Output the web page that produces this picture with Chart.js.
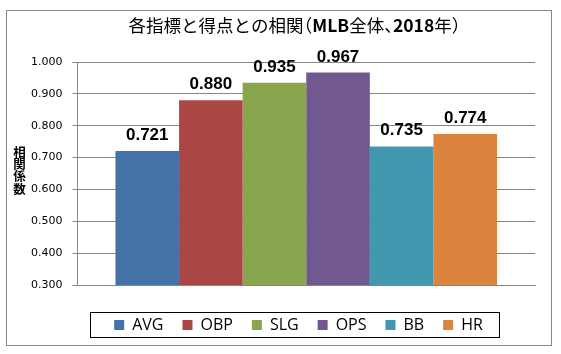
<!DOCTYPE html>
<html>
<head>
<meta charset="utf-8">
<script src="https://cdn.jsdelivr.net/npm/chart.js@4/dist/chart.umd.min.js"></script>
<style>
  html, body { margin: 0; padding: 0; background: #ffffff; }
  canvas { display: block; }
</style>
</head>
<body>
<canvas id="c" width="561" height="354"></canvas>
<script>
// ---- data ----
const chartTitle = '各指標と得点との相関（MLB全体、2018年）';
const yAxisTitle = '相関係数';
const categories = [''];
const seriesNames = ['AVG', 'OBP', 'SLG', 'OPS', 'BB', 'HR'];
const seriesValues = [0.721, 0.880, 0.935, 0.967, 0.735, 0.774];
const yMin = 0.3;
const yMax = 1.0;
const yStep = 0.1;

// ---- styles ----
const palette = ['#4572A7', '#AA4643', '#89A54E', '#71588F', '#4198AF', '#DB843D'];
const gridColor = '#878787';

const datasets = seriesNames.map((name, i) => ({
  label: name,
  data: [seriesValues[i]],
  backgroundColor: palette[i],
  borderWidth: 0,
  categoryPercentage: 0.834,
  barPercentage: 1.0
}));

// draw the title with half-width CJK punctuation and bold latin runs
function drawTitle(ctx, text, cx, cy, size) {
  const fam = '"Noto Sans CJK JP", sans-serif';
  const runs = [];
  Array.from(text).forEach(ch => {
    const latin = /[A-Za-z0-9]/.test(ch);
    const kind = latin ? 'latin' : (ch === '（' ? 'openP' : ((ch === '）' || ch === '、') ? 'closeP' : 'cjk'));
    const last = runs[runs.length - 1];
    if (last && last.kind === kind && (kind === 'latin' || kind === 'cjk')) last.t += ch;
    else runs.push({ t: ch, kind });
  });
  const fontFor = r => (r.kind === 'latin' ? 'bold ' : '') + size + 'px ' + fam;
  runs.forEach(r => {
    ctx.font = fontFor(r);
    r.w = (r.kind === 'openP' || r.kind === 'closeP') ? size * 0.5 : ctx.measureText(r.t).width;
  });
  const total = runs.reduce((s, r) => s + r.w, 0);
  let x = cx - total / 2;
  ctx.textAlign = 'left';
  ctx.textBaseline = 'middle';
  runs.forEach(r => {
    ctx.font = fontFor(r);
    const dx = r.kind === 'openP' ? -size * 0.5 : 0;
    ctx.fillText(r.t, x + dx, cy);
    x += r.w;
  });
}

const decorPlugin = {
  id: 'decor',
  afterLayout(chart) {
    const lg = chart.legend;
    lg.left = 62;
    lg.right = chart.chartArea.right;
    lg.width = lg.right - lg.left;
  },
  afterDraw(chart) {
    const ctx = chart.ctx;
    ctx.save();
    // outer frame
    ctx.strokeStyle = '#888888';
    ctx.lineWidth = 1;
    ctx.strokeRect(6.5, 10.5, 545, 335);

    // chart title
    ctx.fillStyle = '#000000';
    drawTitle(ctx, chartTitle, 294.5, 25.5, 17.5);

    // legend frame
    const hb = chart.legend.legendHitBoxes;
    if (hb && hb.length) {
      const left = Math.min(...hb.map(h => h.left));
      const right = Math.max(...hb.map(h => h.left + h.width));
      const top = Math.min(...hb.map(h => h.top));
      const bottom = Math.max(...hb.map(h => h.top + h.height));
      ctx.strokeStyle = '#000000';
      ctx.strokeRect(Math.round(left - 24) + 0.5, Math.round(top - 5) + 0.5,
                     Math.round(right - left + 40), Math.round(bottom - top + 9));
    }

    // data labels
    ctx.font = 'bold 17px "Liberation Sans", Arial, sans-serif';
    ctx.textAlign = 'center';
    ctx.textBaseline = 'alphabetic';
    chart.data.datasets.forEach((ds, i) => {
      const meta = chart.getDatasetMeta(i);
      meta.data.forEach((el, j) => {
        ctx.fillText(ds.data[j].toFixed(3), el.x, el.y - 11);
      });
    });

    // y-axis title, stacked vertically
    ctx.font = 'bold 12.5px "Noto Sans CJK JP", sans-serif';
    ctx.textAlign = 'center';
    ctx.textBaseline = 'middle';
    const chars = Array.from(yAxisTitle);
    const pitch = 12.3;
    const cy = (chart.chartArea.top + chart.chartArea.bottom) / 2 - 3;
    chars.forEach((ch, k) => {
      ctx.fillText(ch, 19.5, cy + (k - (chars.length - 1) / 2) * pitch);
    });
    ctx.restore();
  }
};

new Chart(document.getElementById('c'), {
  type: 'bar',
  data: { labels: categories, datasets: datasets },
  options: {
    responsive: false,
    animation: false,
    devicePixelRatio: 1,
    layout: { padding: { left: 21, right: 26, top: 62, bottom: 11 } },
    plugins: {
      title: { display: false },
      legend: {
        display: true,
        position: 'bottom',
        labels: {
          color: '#000000',
          boxWidth: 10,
          boxHeight: 10,
          padding: 19,
          font: { family: '"Open Sans", sans-serif', size: 16 }
        }
      },
      tooltip: { enabled: false }
    },
    scales: {
      x: {
        display: true,
        grid: { display: false, drawTicks: false },
        border: { display: true, color: gridColor, width: 1 },
        ticks: { display: false },
        title: { display: true, text: ' ', font: { size: 1, lineHeight: 1 }, padding: { top: 6, bottom: 6 } }
      },
      y: {
        min: yMin,
        max: yMax,
        grid: { color: gridColor, tickLength: 5, drawTicks: true, tickColor: gridColor },
        border: { display: true, color: gridColor, width: 1 },
        ticks: {
          stepSize: yStep,
          color: '#000000',
          padding: 10,
          font: { family: '"DejaVu Sans", Verdana, sans-serif', size: 11 },
          callback: (v) => Number(v).toFixed(3)
        }
      }
    }
  },
  plugins: [decorPlugin]
});
</script>
</body>
</html>
